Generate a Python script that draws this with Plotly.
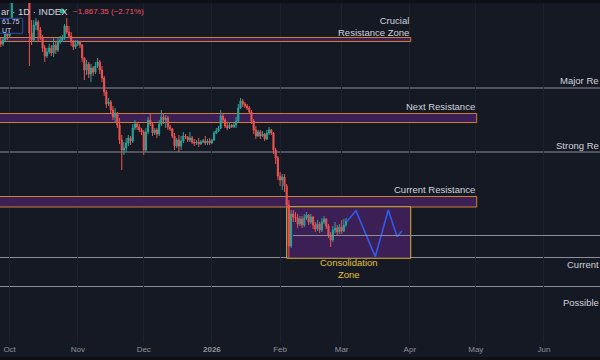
import pandas as pd
import plotly.graph_objects as go

# ---------------- data (prices in thousands USD, daily) ----------------
dates = pd.date_range("2025-09-27", periods=158, freq="D")
first_open = 104.6
close = [104.2, 105.0, 106.2, 105.8,
         109.0, 114.0, 122.3, 122.4, 123.5, 124.7, 121.4, 123.3, 121.7, 106.4,
         105.0, 108.0, 108.6, 107.0, 105.4, 103.4, 101.8, 102.6, 103.4, 102.4,
         104.0, 103.0, 104.6, 105.0, 105.4, 107.8, 106.6, 105.8, 104.6, 103.6, 104.2,
         104.6, 104.0, 101.4, 99.0, 100.2, 98.2, 99.4, 98.6, 99.8, 100.6,
         99.0, 97.4, 94.6, 92.2, 92.6, 91.0, 89.6, 90.4, 88.0, 85.0,
         83.0, 83.4, 84.4, 85.4, 84.8, 87.4, 88.2, 87.6, 87.0, 86.6,
         83.0, 86.6, 89.0, 88.2, 86.4, 87.0, 86.2, 88.2, 89.6, 89.0,
         89.4, 87.6, 87.2, 85.8, 83.8, 85.0, 83.8, 84.8, 85.8, 85.6,
         85.0, 85.4, 84.6, 84.4, 84.6, 84.2, 84.6, 84.8, 84.4, 84.8, 84.4,
         85.0, 86.4, 86.8, 87.4, 89.8, 89.0, 87.8, 87.4, 88.0, 87.6,
         88.0, 88.8, 91.4, 92.8, 92.2, 91.8, 91.4, 90.6, 88.8, 87.0,
         85.8, 86.6, 85.8, 86.2, 85.2, 86.4, 87.0, 86.4, 83.0, 81.4, 77.8,
         77.0, 77.6, 75.8, 72.0, 63.8, 70.2, 69.6, 69.4, 68.2, 69.2,
         68.0, 69.4, 70.0, 68.6, 69.6, 68.0, 67.2, 68.2, 67.0, 68.6,
         69.2, 67.8, 66.0, 65.0, 67.0, 67.4, 66.6, 67.6,
         66.8, 68.0, 68.8]
high = [105.4, 105.4, 106.6, 107.0,
        109.4, 116.0, 123.0, 122.9, 125.0, 126.1, 125.0, 124.0, 123.6, 122.5,
        109.0, 109.0, 109.4, 109.0, 107.6, 106.0, 104.0, 103.4, 104.2, 104.0,
        105.4, 104.6, 105.4, 105.8, 106.0, 108.2, 109.4, 107.8, 106.6, 105.0, 105.0,
        105.0, 104.8, 104.2, 101.6, 101.0, 100.6, 100.2, 99.8, 100.6, 101.4,
        101.0, 99.8, 97.8, 95.0, 93.4, 93.0, 91.8, 91.4, 90.6, 89.4,
        86.0, 84.6, 85.4, 86.0, 85.8, 88.2, 89.0, 88.6, 88.2, 87.4,
        87.0, 87.4, 89.6, 90.2, 88.6, 87.4, 87.4, 89.0, 91.0, 90.4,
        90.0, 89.8, 88.0, 87.4, 86.4, 85.4, 86.0, 85.8, 86.6, 86.2,
        85.8, 86.6, 85.8, 85.2, 85.0, 85.4, 85.0, 85.2, 85.8, 85.2, 85.4,
        85.2, 86.8, 87.4, 87.8, 91.0, 90.4, 89.4, 88.6, 88.6, 88.2,
        88.4, 89.6, 92.2, 93.4, 93.2, 92.6, 92.2, 91.8, 91.0, 89.2,
        87.8, 87.0, 87.0, 86.8, 86.4, 87.0, 87.6, 87.2, 86.6, 83.4, 81.8,
        78.6, 78.2, 78.2, 76.2, 73.0, 71.0, 71.0, 70.6, 70.2, 69.8,
        69.8, 70.2, 70.6, 70.2, 70.2, 69.8, 68.6, 69.0, 68.6, 69.4,
        69.8, 69.4, 68.2, 66.6, 67.8, 68.6, 68.0, 68.2,
        69.0, 69.2, 69.4]
low = [103.6, 103.8, 104.6, 105.0,
       105.6, 108.6, 113.6, 121.5, 122.0, 123.0, 120.6, 121.0, 119.6, 99.8,
       104.0, 104.6, 107.0, 104.6, 105.0, 102.6, 100.6, 101.4, 102.2, 101.8,
       101.6, 102.2, 102.6, 104.2, 104.6, 105.0, 106.2, 105.4, 103.8, 103.0, 103.2,
       103.8, 103.4, 100.6, 97.0, 98.0, 97.4, 96.6, 97.8, 98.2, 99.4,
       98.2, 96.6, 93.8, 91.4, 91.8, 90.4, 89.0, 88.6, 87.4, 84.2,
       79.0, 82.0, 82.6, 83.8, 84.0, 84.4, 87.0, 87.0, 86.6, 86.0,
       82.0, 82.6, 86.2, 87.8, 85.8, 86.0, 85.4, 85.8, 87.8, 88.2,
       87.4, 87.0, 86.8, 85.4, 83.0, 83.4, 82.6, 83.0, 84.4, 85.2,
       84.6, 84.6, 84.2, 83.8, 84.0, 83.6, 84.0, 84.4, 84.0, 84.0, 84.0,
       84.2, 84.8, 86.2, 86.6, 87.2, 88.6, 87.4, 87.0, 87.2, 87.4,
       87.4, 87.4, 88.6, 91.2, 91.6, 91.4, 91.0, 90.2, 88.2, 86.2,
       85.2, 85.6, 85.2, 85.6, 84.8, 85.0, 86.0, 86.0, 82.2, 80.2, 77.0,
       75.8, 75.0, 74.6, 71.4, 61.4, 63.4, 68.6, 68.6, 67.4, 67.8,
       67.4, 67.6, 69.0, 68.0, 68.2, 67.2, 66.6, 66.8, 66.4, 66.6,
       68.2, 67.2, 65.4, 63.6, 64.6, 66.4, 65.8, 66.2,
       66.2, 66.6, 67.6]
open_ = [first_open] + close[:-1]

# projected path (blue zigzag)
proj_dates = ["2026-03-03 07:00", "2026-03-07 12:00", "2026-03-16 07:00",
              "2026-03-22 05:00", "2026-03-26 05:00", "2026-03-28 10:00"]
proj_prices = [68.66, 70.86, 61.66, 71.0, 65.66, 66.8]

# resistance zones: (end, low, high), all starting off-chart to the left
zone_start = "2025-09-01"
zones = [("2026-04-01 10:00", 104.7, 105.5),
         ("2026-05-01 10:00", 88.5, 90.3),
         ("2026-05-01 10:00", 71.6, 73.7)]
cons_zone = ("2026-02-04 00:00", "2026-04-01 10:00", 61.35, 71.65)
full_levels = [95.4, 82.6, 61.5, 55.7]
mid_level = ("2026-02-06 21:00", 65.9)

# zone labels: (text, x, price)
labels = [("Crucial<br>Resistance Zone", "2026-04-01 10:00", 107.7),
          ("Next Resistance", "2026-05-01 10:00", 91.8),
          ("Current Resistance", "2026-05-01 10:00", 75.2)]
# level labels at the right edge of the window (as visible there)
edge_labels = [("Major Re", 96.86), ("Strong Re", 83.86),
               ("Current", 60.14), ("Possible", 52.46)]
cons_label = ("Consolidation<br>Zone", "2026-03-04 06:00", 59.24)

month_ticks = ["2025-10-01", "2025-11-01", "2025-12-01", "2026-01-01", "2026-02-01",
               "2026-03-01", "2026-04-01", "2026-05-01", "2026-06-01"]
month_text = ["Oct", "Nov", "Dec", "<b>2026</b>", "Feb", "Mar", "Apr", "May", "Jun"]

# ---------------- styling ----------------
BG = "#151924"
UP = "#26a69a"
DOWN = "#ef5350"
ZONE_FILL = "#3b1f55"
ZONE_LINE = "#cc8033"
CONS_LINE = "#d9b52e"
LEVEL = "#8c8f98"
TEXT = "#d1d4dc"
FONT = "Liberation Sans"

fig = go.Figure()

fig.add_trace(go.Candlestick(
    x=dates, open=open_, high=high, low=low, close=close,
    increasing=dict(line=dict(color=UP, width=1), fillcolor=UP),
    decreasing=dict(line=dict(color=DOWN, width=1), fillcolor=DOWN),
    whiskerwidth=0, showlegend=False, hoverinfo="skip"))

fig.add_trace(go.Scatter(x=proj_dates, y=proj_prices, mode="lines",
                         line=dict(color="#2f5cf0", width=1.6),
                         showlegend=False, hoverinfo="skip"))

shapes = []
for end, lo, hi in zones:
    shapes.append(dict(type="rect", xref="x", yref="y", x0=zone_start, x1=end,
                       y0=lo, y1=hi, fillcolor=ZONE_FILL,
                       line=dict(color=ZONE_LINE, width=1), layer="between"))
shapes.append(dict(type="rect", xref="x", yref="y", x0=cons_zone[0], x1=cons_zone[1],
                   y0=cons_zone[2], y1=cons_zone[3], fillcolor=ZONE_FILL,
                   line=dict(color=CONS_LINE, width=1), layer="between"))
for lv in full_levels:
    shapes.append(dict(type="line", xref="paper", yref="y", x0=0, x1=1, y0=lv, y1=lv,
                       line=dict(color=LEVEL, width=1), layer="between"))
shapes.append(dict(type="line", xref="x", yref="y", x0=mid_level[0], x1="2026-08-01",
                   y0=mid_level[1], y1=mid_level[1],
                   line=dict(color=LEVEL, width=1), layer="above"))

# chrome: top strip, bottom strip, legend dot, price box
PH = 340.0
def py(px):
    return (343 - px) / PH

shapes.append(dict(type="rect", xref="paper", yref="paper", x0=0, x1=1,
                   y0=1, y1=py(0), fillcolor="#0e1016", line=dict(width=0), layer="above"))
shapes.append(dict(type="rect", xref="paper", yref="paper", x0=0, x1=1,
                   y0=py(360), y1=py(357), fillcolor="#0e1016", line=dict(width=0), layer="above"))
shapes.append(dict(type="circle", xref="paper", yref="paper", x0=59.5 / 600, x1=64.5 / 600,
                   y0=py(13.5), y1=py(8.5), fillcolor="#22ab94", line=dict(width=0), layer="above"))
shapes.append(dict(type="rect", xref="paper", yref="paper", x0=-0.01, x1=22.7 / 600,
                   y0=py(33.3), y1=py(18.3), fillcolor="#131722",
                   line=dict(color="#2a4ea8", width=1), layer="above"))

annotations = []
for txt, x, y in labels:
    annotations.append(dict(text=txt, x=x, y=y, xref="x", yref="y", xanchor="right",
                            yanchor="middle", align="right", showarrow=False,
                            font=dict(family=FONT, size=9.5, color=TEXT)))
for txt, y in edge_labels:
    annotations.append(dict(text=txt, x=1, y=y, xref="paper", yref="y", xanchor="right",
                            yanchor="middle", align="left", showarrow=False,
                            borderpad=0, xshift=-0.5,
                            font=dict(family=FONT, size=9.5, color=TEXT)))
annotations.append(dict(text=cons_label[0], x=cons_label[1], y=cons_label[2], xref="x",
                        yref="y", xanchor="center", yanchor="middle", align="center",
                        showarrow=False,
                        font=dict(family=FONT, size=9.5, color="#e3c13a")))
annotations.append(dict(text="ar · 1D · INDEX", x=0, y=py(11), xref="paper", yref="paper",
                        xanchor="left", yanchor="middle", showarrow=False, borderpad=0,
                        font=dict(family=FONT, size=9.5, color=TEXT)))
annotations.append(dict(text="−1,867.35 (−2.71%)", x=71 / 600, y=py(11), xref="paper",
                        yref="paper", xanchor="left", yanchor="middle", showarrow=False,
                        font=dict(family=FONT, size=8, color="#f7525f")))
annotations.append(dict(text="61.75<br>UT", x=0.5 / 600, y=py(26), xref="paper", yref="paper",
                        xanchor="left", yanchor="middle", align="left", showarrow=False,
                        borderpad=0,
                        font=dict(family=FONT, size=7, color="#c8d3ee")))

fig.update_layout(
    width=600, height=360,
    margin=dict(l=0, r=0, t=3, b=17),
    paper_bgcolor=BG, plot_bgcolor=BG,
    showlegend=False,
    font=dict(family=FONT, color=TEXT),
    shapes=shapes, annotations=annotations,
    xaxis=dict(type="date", range=["2025-09-26 15:13", "2026-06-26 11:46"],
               tickmode="array", tickvals=month_ticks, ticktext=month_text,
               tickfont=dict(family=FONT, size=8, color="#8f929b"),
               showgrid=True, gridcolor="#1e2230", gridwidth=1,
               zeroline=False, showline=False, ticks="",
               rangeslider=dict(visible=False), fixedrange=True),
    yaxis=dict(range=[44.4, 112.4], showticklabels=False, showgrid=False,
               zeroline=False, showline=False, fixedrange=True),
)

fig.write_html("out.html",
               config={"displayModeBar": False},
               post_script="document.body.style.margin='0';"
                           "document.body.style.overflow='hidden';")
